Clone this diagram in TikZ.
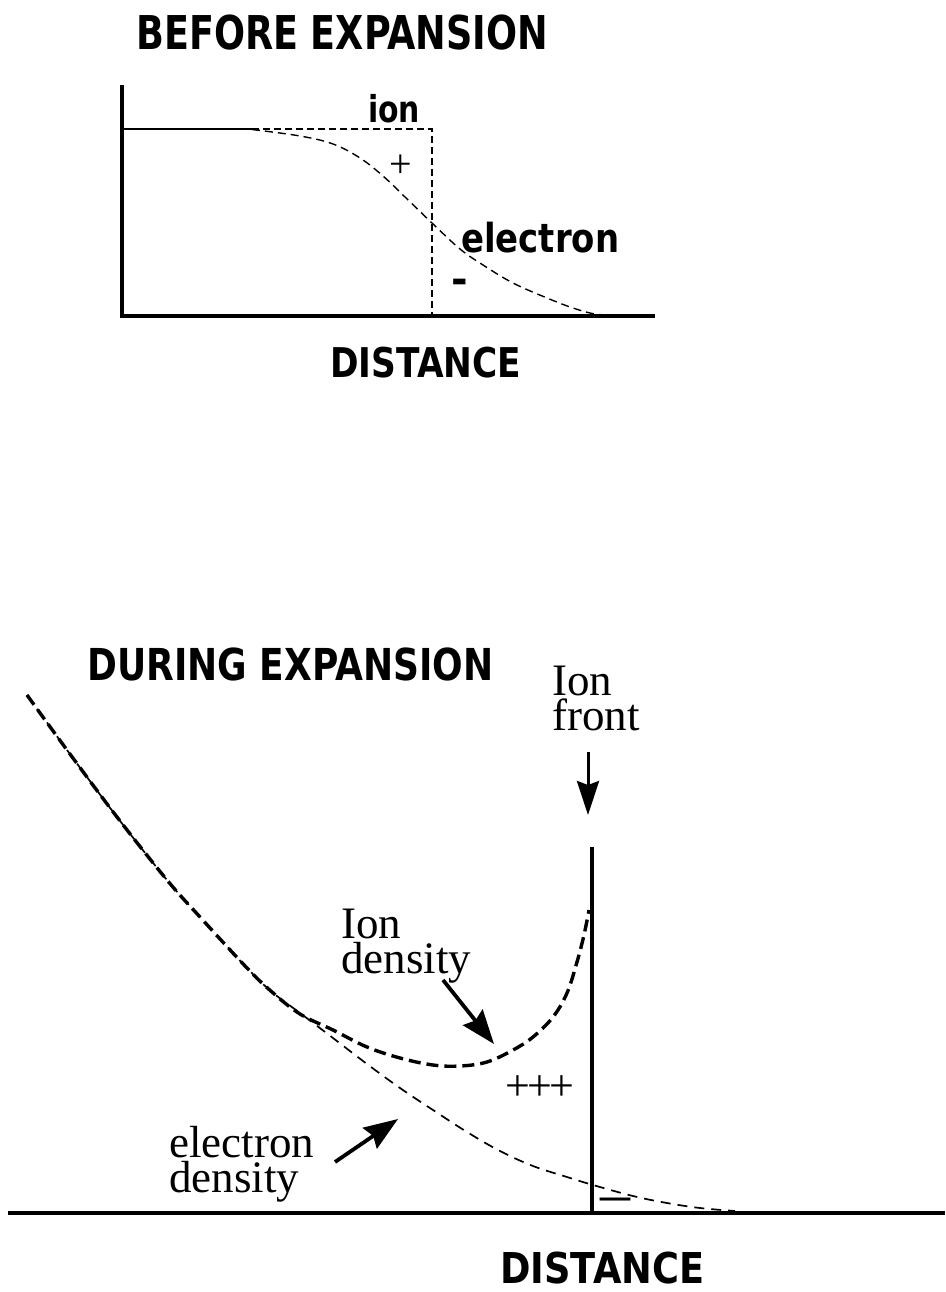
\documentclass[tikz,border=0pt]{standalone}
\usepackage{fontspec}
\usepackage{graphicx}
\usetikzlibrary{arrows.meta}
\newfontfamily\labsans{DejaVu Sans}
\newfontfamily\labserif{Liberation Serif}
\newcommand\fitsans[3]{\resizebox{#1pt}{\height}{\fontsize{#2pt}{#2pt}\labsans\bfseries #3}}
\begin{document}
\begin{tikzpicture}[x=1pt,y=-1pt,
  axisline/.style={line width=3.6pt},
  frontline/.style={line width=4pt},
  lab/.style={inner sep=0pt, anchor=base west},
  symb/.style={inner sep=0pt, anchor=base},
  serifnote/.style={inner sep=0pt, anchor=north west, align=left,
     font={\labserif\fontsize{45pt}{35pt}\selectfont}},
  topion/.style={line width=1.4pt, dash pattern=on 7pt off 4pt},
  topel/.style={line width=1.4pt, dash pattern=on 8pt off 5pt},
  botion/.style={line width=3.4pt, dash pattern=on 12pt off 6pt},
  botel/.style={line width=1.7pt, dash pattern=on 10pt off 7pt},
  pointer/.style={line width=3.8pt, -{Stealth[length=34pt,width=25pt,inset=4pt]}},
  frontpointer/.style={line width=3pt, -{Stealth[length=34pt,width=22pt,inset=4pt]}}
]
\useasboundingbox (0,0) rectangle (945,1292);

% ---------- BEFORE EXPANSION ----------
\node[lab] (title1) at (136,50) {\fitsans{412}{46.6}{BEFORE EXPANSION}};
\coordinate (ytop) at (122,85);
\coordinate (orig1) at (122,316);
\coordinate (xend1) at (655,316);
\draw[axisline] (ytop) -- (orig1) -- (xend1);

\coordinate (flatA) at (122,129);
\coordinate (flatB) at (252,129);
\coordinate (ionc) at (432,129);
\coordinate (ionb) at (432,316);
\draw[line width=1.8pt] (flatA) -- (flatB);
\draw[topion] (flatB) -- (ionc) -- (ionb);
\draw[topel] plot[smooth, tension=0.6] coordinates {(252,129.5) (300,136) (333,144) (360,158) (383,176) (405,197) (432,223) (460,249) (483,265) (513,283) (547,298) (573,308) (595,314) (620,316)};

\node[lab] (ionlab) at (368,123) {\fitsans{52}{37}{ion}};
\node[lab] (ellab) at (461,252) {\fitsans{158}{40}{electron}};
\node[symb, font={\labserif\fontsize{40pt}{40pt}\selectfont}] (plus1) at (401,178) {+};
\node[symb, font={\labsans\bfseries\fontsize{40pt}{40pt}\selectfont}] (minus1) at (459.5,293) {-};
\node[lab] (dist1) at (330,377) {\fitsans{191}{41}{DISTANCE}};

% ---------- DURING EXPANSION ----------
\node[lab] (title2) at (87,680) {\fitsans{406}{44}{DURING EXPANSION}};
\coordinate (xstart2) at (8,1213);
\coordinate (xend2) at (945,1213);
\draw[axisline, line width=4pt] (xstart2) -- (xend2);
\coordinate (frontTop) at (592,847);
\coordinate (frontBot) at (592,1213);
\draw[frontline] (frontTop) -- (frontBot);

\draw[botel] plot[smooth, tension=0.6] coordinates {(27,695) (67,750) (117,817) (167,880) (200,917) (247,968) (272,992) (300,1013) (333,1038) (367,1064) (400,1088) (433,1110) (467,1132) (500,1151) (533,1166) (567,1177) (593,1185) (633,1196) (667,1203) (700,1208) (735,1211)};
\draw[botion] plot[smooth, tension=0.6] coordinates {(27,695) (67,750) (117,817) (167,880) (200,917) (247,968) (272,992) (300,1014) (333,1030) (367,1047) (400,1058) (433,1065) (460,1066) (487,1062) (513,1050) (533,1037) (553,1017) (567,993) (577,962) (584,935) (589,910)};

\node[serifnote] (ionfront) at (552,665.5) {Ion\\front};
\coordinate (ifA) at (588,752);
\coordinate (ifB) at (588,815);
\draw[frontpointer] (ifA) -- (ifB);

\node[serifnote] (iondens) at (341,908.5) {Ion\\density};
\coordinate (idA) at (443,980);
\coordinate (idB) at (494,1044);
\draw[pointer] (idA) -- (idB);

\node[serifnote] (eldens) at (169,1126) {electron\\density};
\coordinate (edA) at (335,1162);
\coordinate (edB) at (398,1119);
\draw[pointer] (edA) -- (edB);

\node[symb, font={\labserif\fontsize{44pt}{44pt}\selectfont}] (plus3) at (540,1100) {+\kern-2.5pt+\kern-2.5pt+};
\node[symb, font={\labserif\fontsize{60pt}{60pt}\selectfont}] (minus2) at (615,1213) {–};
\node[lab] (dist2) at (500,1283) {\fitsans{204}{42.5}{DISTANCE}};
\end{tikzpicture}
\end{document}
